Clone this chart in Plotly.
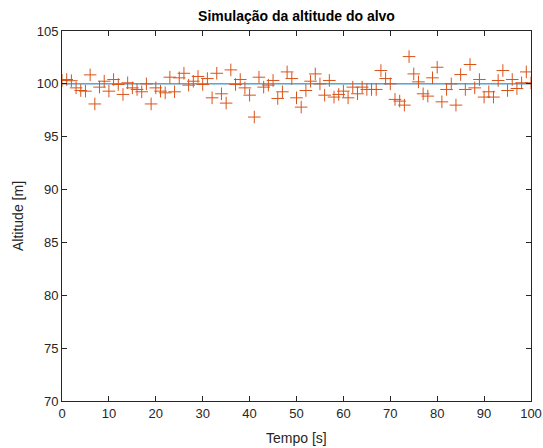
import plotly.graph_objects as go

tempo = list(range(0, 101))
altitude_medida = [
    100.32, 100.41, 100.30, 99.62, 99.37, 99.31, 100.85, 98.10, 99.69, 100.25,
    99.31, 100.41, 99.94, 99.00, 100.10, 99.62, 99.47, 99.25, 100.00, 98.10,
    99.62, 99.31, 99.15, 100.63, 99.25, 100.57, 101.00, 99.88, 100.25, 100.70,
    99.94, 100.50, 98.68, 101.00, 99.06, 98.18, 101.32, 99.94, 100.41, 99.62,
    98.93, 96.86, 100.63, 99.69, 99.88, 100.32, 98.62, 99.25, 101.13, 100.50,
    98.68, 97.80, 99.37, 100.25, 100.94, 100.00, 98.93, 100.32, 98.75, 99.00,
    99.31, 98.68, 99.69, 99.06, 99.69, 99.47, 99.47, 99.47, 101.26, 100.50,
    100.00, 98.53, 98.37, 97.99, 102.58, 100.94, 100.19, 99.06, 98.84, 100.57,
    101.57, 98.30, 99.47, 100.00, 97.99, 100.88, 99.47, 101.83, 99.62, 100.41,
    98.75, 99.25, 98.75, 100.32, 101.26, 99.37, 100.41, 99.56, 100.10, 101.13,
    100.10,
]
altitude_real = [100.0] * len(tempo)

x_ticks = list(range(0, 101, 10))
y_ticks = list(range(70, 106, 5))

FONT = "Liberation Sans, Arial, sans-serif"

W, H = 543, 448
L, R, T, B = 62, 12, 31, 47
plot_h = H - T - B
plot_w = W - L - R

fig = go.Figure()
fig.add_trace(go.Scatter(
    x=tempo, y=altitude_real, mode="lines",
    line=dict(color="#0072BD", width=1), showlegend=False, hoverinfo="skip",
))
fig.add_trace(go.Scatter(
    x=tempo, y=altitude_medida, mode="markers",
    marker=dict(symbol="cross-thin", size=9, line=dict(color="#D95319", width=1), color="#D95319"),
    showlegend=False, hoverinfo="skip",
))

axis_common = dict(
    showline=True, linecolor="#262626", linewidth=1, mirror="ticks",
    ticks="inside", ticklen=5, tickcolor="#262626", tickwidth=1,
    showgrid=False, zeroline=False, automargin=False, ticklabeloverflow="allow",
    tickfont=dict(family=FONT, size=13, color="#262626"),
)

fig.update_layout(
    width=W, height=H,
    margin=dict(l=L, r=R, t=T, b=B, autoexpand=False),
    paper_bgcolor="white", plot_bgcolor="white",
    hovermode=False,
    title=dict(
        text="<b>Simulação da altitude do alvo</b>",
        x=(L + L + plot_w) / 2 / W, xanchor="center", xref="container",
        y=1 - 16 / H, yanchor="middle", yref="container",
        font=dict(family=FONT, size=14, color="#000000"),
    ),
    xaxis=dict(range=[0, 100], tickvals=x_ticks, ticktext=[str(v) for v in x_ticks], **axis_common),
    yaxis=dict(range=[70, 105], tickvals=y_ticks, ticktext=[str(v) for v in y_ticks], **axis_common),
    annotations=[
        dict(text="Tempo [s]", x=0.5, xref="paper", y=-(438 - 401) / plot_h, yref="paper",
             xanchor="center", yanchor="middle",
             showarrow=False, font=dict(family=FONT, size=14, color="#262626")),
        dict(text="Altitude [m]", x=-(62 - 18) / plot_w, xref="paper", y=0.5, yref="paper",
             xanchor="center", yanchor="middle",
             showarrow=False, textangle=-90, font=dict(family=FONT, size=14, color="#262626")),
    ],
)

post = (
    "document.documentElement.style.margin='0';"
    "document.documentElement.style.overflow='hidden';"
    "document.body.style.margin='0';"
    "document.body.style.padding='0';"
    "document.body.style.overflow='hidden';"
)
fig.write_html("out.html", post_script=post, config={"displayModeBar": False, "staticPlot": True})
